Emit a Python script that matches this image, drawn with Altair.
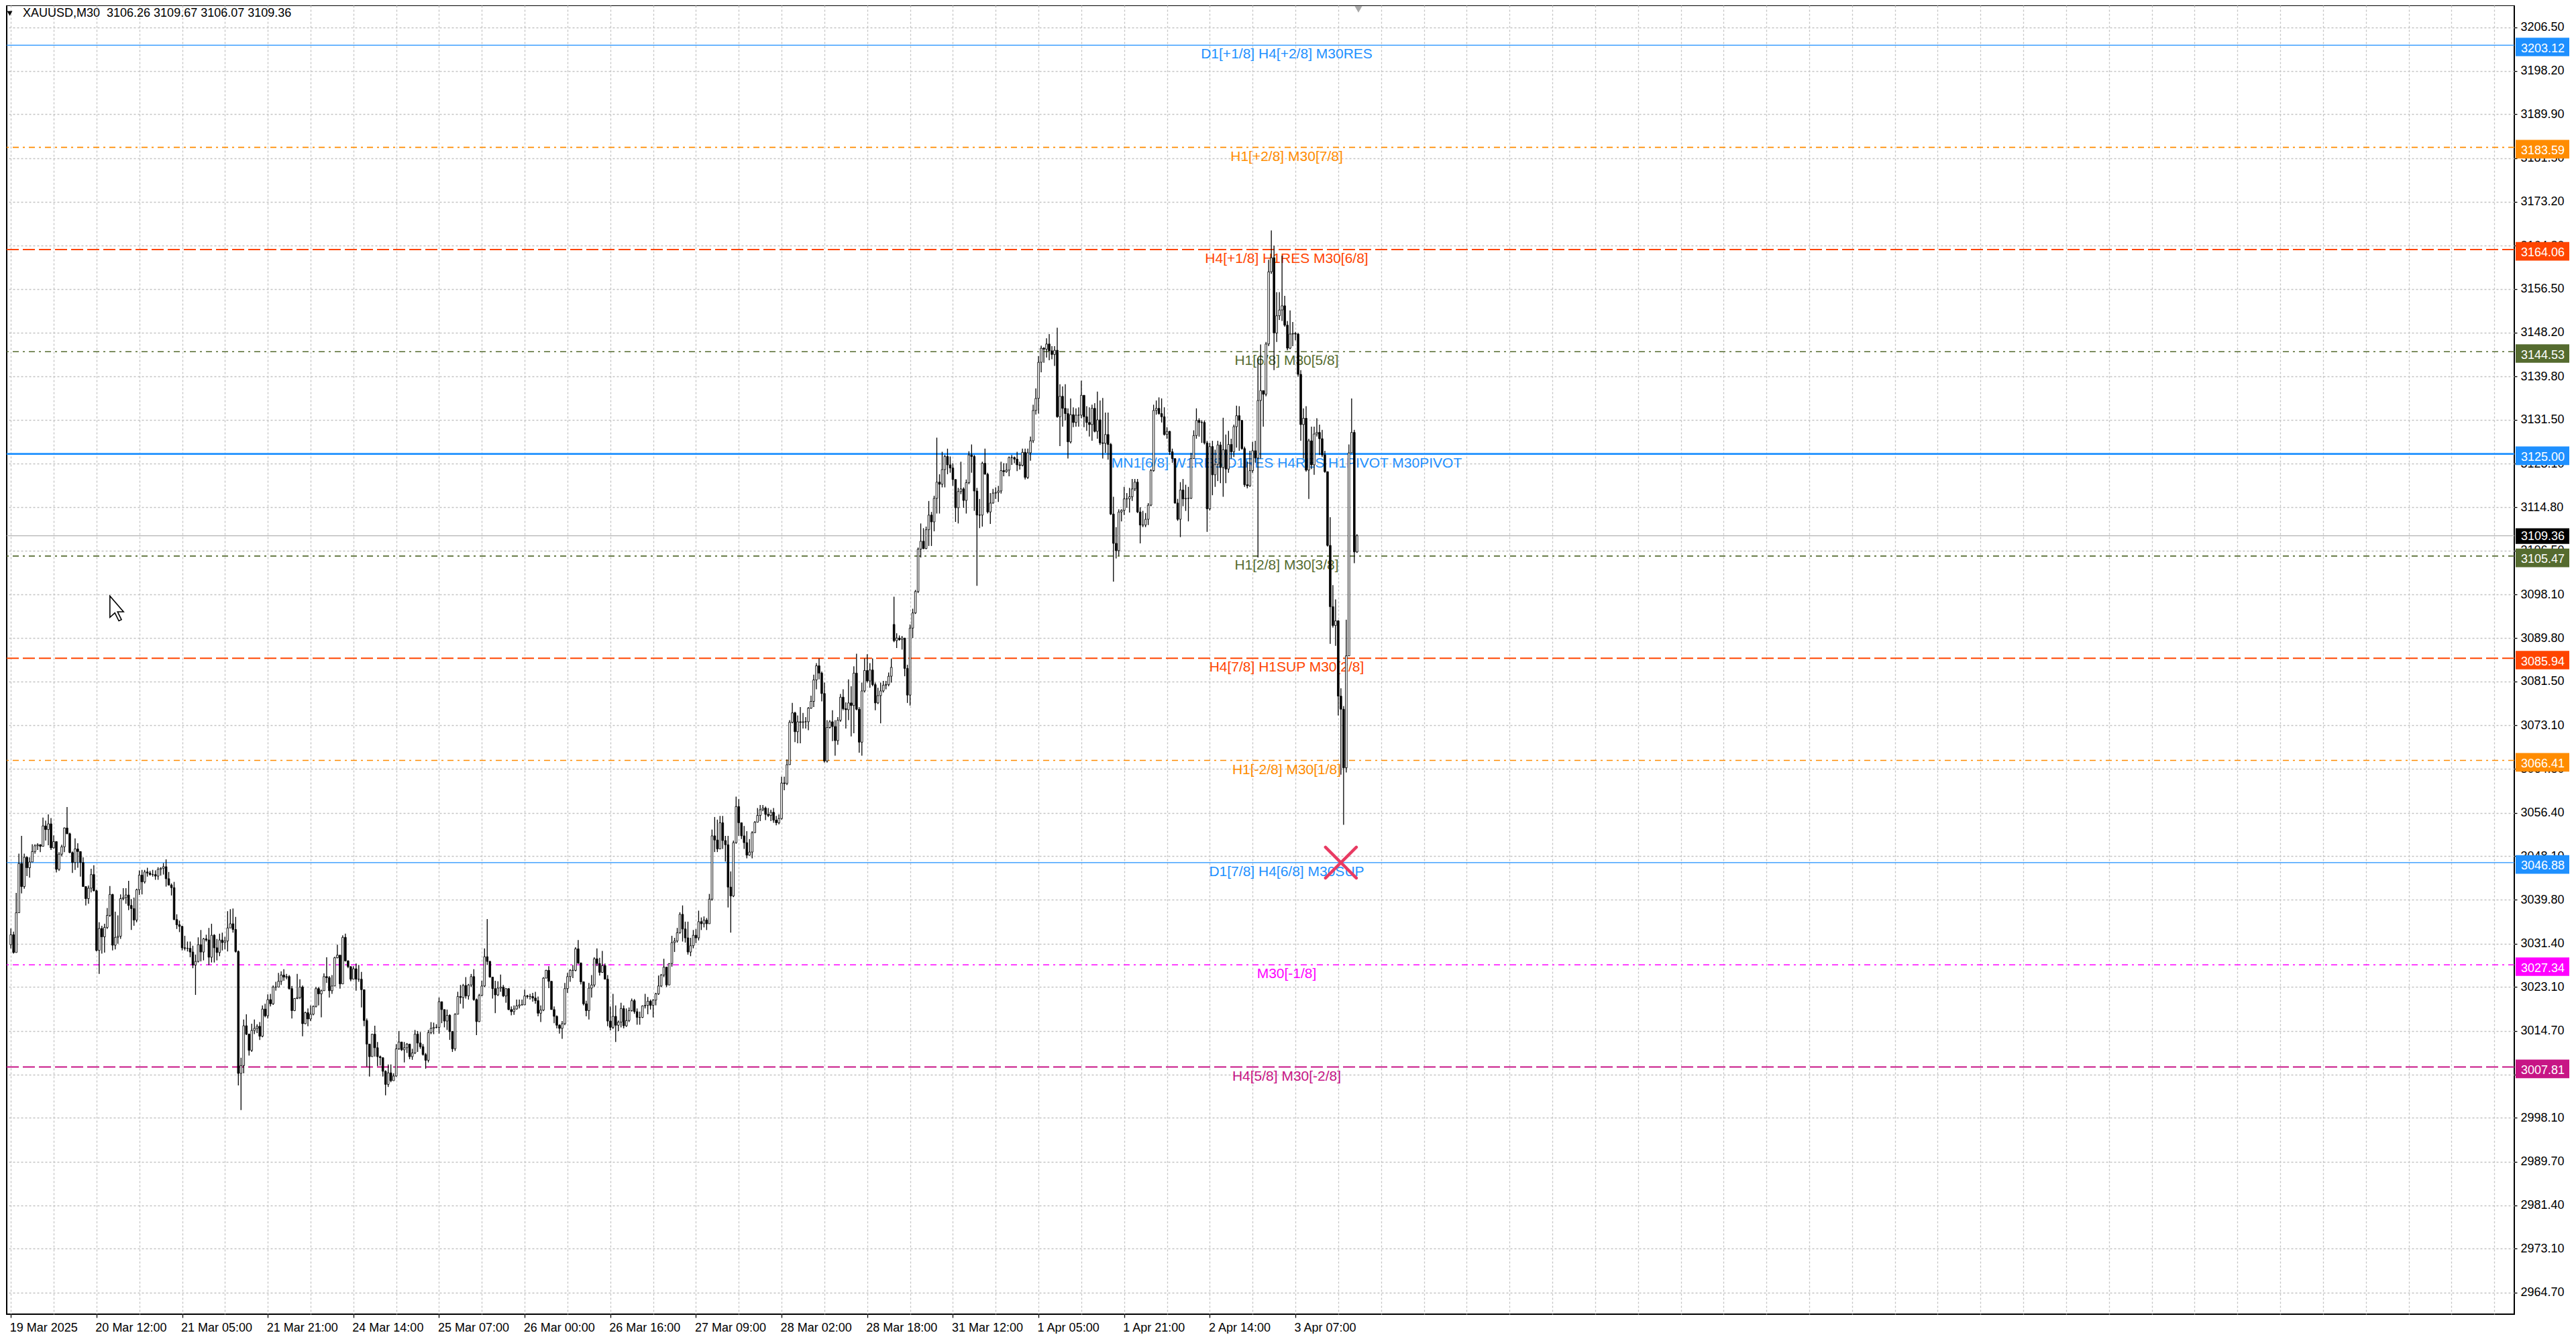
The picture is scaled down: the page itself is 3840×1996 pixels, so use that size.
import json
import altair as alt
import pandas as pd

# ---------------- candle data (M30 bars) ----------------
first_open = 3031.2
gap_bars = [330]
gap_opens = [3092.4]

closes = [
3033.1, 3029.7, 3037.3, 3046.7, 3042.3, 3047.9, 3045.9, 3047.0, 3049.0, 3050.1,
3050.3, 3050.0, 3053.9, 3053.2, 3054.3, 3049.7, 3050.9, 3045.6, 3048.5, 3049.9,
3053.5, 3052.4, 3048.8, 3046.9, 3049.5, 3049.0, 3046.9, 3042.3, 3040.0, 3042.0,
3044.6, 3041.5, 3030.1, 3034.3, 3032.7, 3034.5, 3036.8, 3040.8, 3031.1, 3032.6,
3032.8, 3040.0, 3040.2, 3040.7, 3038.7, 3038.1, 3035.9, 3041.7, 3044.5, 3043.2,
3045.1, 3044.9, 3044.6, 3044.6, 3044.3, 3045.6, 3045.8, 3046.1, 3043.8, 3042.6,
3042.1, 3036.0, 3035.0, 3034.7, 3030.6, 3030.5, 3030.5, 3029.8, 3027.3, 3028.0,
3031.2, 3029.8, 3032.3, 3032.1, 3028.8, 3033.0, 3030.6, 3029.7, 3032.1, 3031.6,
3031.9, 3034.4, 3035.2, 3034.1, 3029.9, 3006.6, 3008.1, 3015.7, 3014.1, 3011.0,
3014.8, 3015.2, 3015.6, 3013.7, 3018.9, 3017.6, 3020.7, 3019.9, 3023.1, 3023.1,
3024.2, 3025.4, 3025.0, 3025.1, 3022.8, 3018.6, 3020.9, 3021.1, 3023.1, 3016.1,
3018.2, 3017.0, 3017.9, 3019.4, 3022.8, 3021.8, 3022.4, 3025.1, 3024.9, 3022.4,
3023.3, 3028.7, 3029.2, 3023.7, 3032.6, 3028.1, 3027.0, 3024.6, 3026.6, 3024.6,
3024.6, 3022.6, 3016.7, 3012.2, 3009.8, 3014.1, 3011.5, 3009.8, 3009.6, 3007.0,
3004.5, 3006.7, 3005.2, 3006.1, 3011.3, 3012.6, 3011.1, 3011.5, 3012.2, 3009.8,
3010.5, 3014.1, 3012.4, 3011.7, 3010.2, 3009.1, 3014.4, 3015.2, 3015.4, 3015.4,
3020.3, 3018.8, 3016.6, 3017.7, 3014.6, 3011.3, 3017.9, 3021.3, 3021.1, 3023.4,
3021.4, 3023.5, 3025.1, 3020.7, 3016.5, 3021.5, 3023.3, 3028.9, 3028.0, 3025.0,
3022.8, 3021.6, 3022.9, 3023.1, 3021.4, 3022.8, 3018.8, 3018.4, 3018.9, 3019.5,
3019.7, 3019.7, 3021.4, 3021.3, 3021.3, 3021.0, 3020.5, 3018.1, 3018.7, 3024.8,
3026.3, 3024.2, 3018.8, 3017.5, 3015.8, 3015.2, 3016.1, 3022.8, 3025.1, 3026.3,
3026.3, 3030.4, 3027.7, 3024.1, 3019.9, 3018.6, 3022.9, 3023.5, 3028.5, 3027.6,
3025.9, 3027.2, 3024.6, 3016.6, 3015.4, 3017.5, 3015.8, 3016.4, 3019.0, 3015.7,
3016.7, 3018.6, 3020.5, 3018.4, 3017.3, 3017.3, 3019.5, 3019.6, 3020.4, 3019.6,
3020.6, 3021.8, 3023.3, 3025.4, 3026.9, 3023.5, 3027.6, 3031.6, 3031.9, 3033.5,
3037.0, 3034.2, 3032.5, 3029.8, 3031.0, 3033.0, 3032.5, 3035.6, 3035.2, 3035.9,
3035.2, 3039.9, 3052.0, 3051.2, 3049.5, 3054.5, 3051.1, 3050.3, 3042.2, 3040.5,
3050.7, 3057.6, 3054.5, 3052.0, 3050.7, 3048.3, 3048.9, 3052.6, 3054.6, 3055.9,
3057.0, 3057.3, 3056.1, 3055.9, 3056.5, 3055.0, 3054.5, 3055.3, 3062.1, 3062.0,
3065.6, 3073.7, 3075.5, 3071.9, 3073.8, 3073.7, 3073.8, 3073.8, 3076.4, 3077.7,
3081.8, 3084.5, 3083.1, 3079.2, 3066.3, 3072.7, 3073.8, 3072.9, 3070.2, 3074.1,
3078.5, 3076.3, 3076.1, 3077.4, 3076.9, 3083.1, 3076.2, 3069.9, 3079.7, 3083.6,
3081.6, 3083.7, 3080.9, 3077.4, 3078.8, 3079.7, 3080.8, 3080.9, 3082.5, 3084.2,
3089.3, 3089.8, 3089.5, 3089.8, 3084.0, 3078.9, 3091.7, 3094.6, 3098.7, 3106.8,
3108.3, 3106.9, 3110.5, 3113.3, 3112.0, 3116.5, 3119.6, 3119.2, 3122.0, 3124.5,
3122.9, 3122.3, 3120.1, 3114.7, 3117.8, 3118.3, 3116.1, 3119.5, 3124.8, 3124.5,
3117.9, 3113.3, 3113.3, 3123.2, 3121.1, 3113.9, 3115.6, 3117.5, 3117.6, 3117.9,
3121.8, 3121.6, 3121.9, 3124.3, 3124.3, 3124.0, 3122.9, 3122.8, 3125.3, 3120.5,
3125.2, 3127.5, 3133.3, 3135.6, 3142.5, 3145.2, 3145.0, 3146.0, 3144.7, 3144.0,
3144.8, 3132.1, 3136.0, 3133.7, 3132.7, 3127.3, 3132.5, 3131.0, 3132.4, 3132.4,
3136.2, 3132.1, 3131.0, 3130.6, 3133.7, 3129.3, 3131.5, 3127.1, 3127.0, 3128.7,
3126.8, 3113.5, 3107.9, 3106.5, 3113.9, 3114.2, 3116.4, 3116.4, 3116.8, 3118.3,
3119.6, 3113.9, 3111.4, 3111.4, 3112.5, 3115.2, 3121.8, 3133.3, 3133.7, 3132.7,
3132.1, 3128.7, 3129.3, 3125.4, 3124.1, 3115.6, 3112.5, 3118.1, 3116.4, 3116.5,
3116.5, 3124.1, 3128.5, 3131.4, 3131.0, 3131.0, 3127.1, 3114.5, 3126.4, 3121.0,
3123.0, 3126.7, 3122.4, 3125.8, 3122.1, 3126.8, 3125.4, 3130.2, 3132.3, 3131.4,
3126.0, 3119.1, 3118.9, 3121.8, 3125.6, 3124.2, 3135.2, 3137.1, 3136.4, 3146.0,
3159.8, 3162.5, 3148.1, 3151.4, 3152.5, 3153.3, 3149.6, 3145.2, 3147.9, 3148.0,
3147.9, 3140.2, 3130.6, 3131.8, 3121.9, 3127.5, 3122.9, 3128.8, 3129.1, 3127.9,
3124.8, 3121.6, 3107.5, 3095.8, 3092.2, 3093.1, 3078.7, 3076.2, 3065.0, 3086.4,
3125.2, 3129.1, 3106.26, 3109.36,
]

highs = [
3034.3, 3033.7, 3041.1, 3048.6, 3052.0, 3048.6, 3048.1, 3047.9, 3050.4, 3050.4,
3050.6, 3050.4, 3055.5, 3054.9, 3056.1, 3055.4, 3052.1, 3050.9, 3048.9, 3050.3,
3053.6, 3057.5, 3052.6, 3049.0, 3051.5, 3050.6, 3049.0, 3047.9, 3042.3, 3042.5,
3045.7, 3046.4, 3041.7, 3035.5, 3034.8, 3035.2, 3038.2, 3042.4, 3040.9, 3037.5,
3036.8, 3040.8, 3042.0, 3042.0, 3043.4, 3039.9, 3040.2, 3041.9, 3045.4, 3045.5,
3045.5, 3045.9, 3045.3, 3045.5, 3045.4, 3046.0, 3046.0, 3046.8, 3047.5, 3045.1,
3042.9, 3043.2, 3037.0, 3035.8, 3034.8, 3032.9, 3031.8, 3031.8, 3031.0, 3029.3,
3032.6, 3034.0, 3032.5, 3033.1, 3034.4, 3035.2, 3033.2, 3032.3, 3033.3, 3033.5,
3032.7, 3037.6, 3038.0, 3038.1, 3036.5, 3030.1, 3009.6, 3016.9, 3017.9, 3014.2,
3016.1, 3016.9, 3016.0, 3016.4, 3019.6, 3019.9, 3021.7, 3021.8, 3023.4, 3024.1,
3025.8, 3026.1, 3026.5, 3025.6, 3025.4, 3023.3, 3021.0, 3025.6, 3024.6, 3023.4,
3018.4, 3019.0, 3019.6, 3019.6, 3023.1, 3023.1, 3022.6, 3025.7, 3028.8, 3025.2,
3025.4, 3028.9, 3031.2, 3029.2, 3033.0, 3033.3, 3028.2, 3027.1, 3027.1, 3027.6,
3027.3, 3026.0, 3022.4, 3017.1, 3012.2, 3014.1, 3015.7, 3012.6, 3010.0, 3009.6,
3007.2, 3008.3, 3008.3, 3006.6, 3012.2, 3014.7, 3012.2, 3012.6, 3012.4, 3012.2,
3011.3, 3014.9, 3014.7, 3014.5, 3012.2, 3010.5, 3014.9, 3016.4, 3016.3, 3016.0,
3021.1, 3020.3, 3018.6, 3018.8, 3017.9, 3014.7, 3018.1, 3022.2, 3023.5, 3023.7,
3025.0, 3023.7, 3025.6, 3026.5, 3020.9, 3021.8, 3024.3, 3030.5, 3036.1, 3028.1,
3025.0, 3024.3, 3024.2, 3025.5, 3023.5, 3022.9, 3022.9, 3019.4, 3019.6, 3020.7,
3020.7, 3020.7, 3022.6, 3021.6, 3021.8, 3022.0, 3022.2, 3021.3, 3019.6, 3025.0,
3026.4, 3027.1, 3024.2, 3019.4, 3017.7, 3016.0, 3016.6, 3023.9, 3025.8, 3026.5,
3027.3, 3030.7, 3032.1, 3027.8, 3024.1, 3020.5, 3023.9, 3025.4, 3028.8, 3030.5,
3028.7, 3030.0, 3027.6, 3025.4, 3019.4, 3021.8, 3019.6, 3016.7, 3020.1, 3019.6,
3019.0, 3019.2, 3020.9, 3020.8, 3019.0, 3018.4, 3019.6, 3021.8, 3021.2, 3020.7,
3020.8, 3022.0, 3025.3, 3025.6, 3028.5, 3026.9, 3027.6, 3032.9, 3032.5, 3034.4,
3037.4, 3038.7, 3035.6, 3035.6, 3032.5, 3034.0, 3034.2, 3037.7, 3036.4, 3036.6,
3036.3, 3040.9, 3053.2, 3055.6, 3055.1, 3055.8, 3055.8, 3052.0, 3052.0, 3045.2,
3051.1, 3059.5, 3059.0, 3054.5, 3053.9, 3052.9, 3051.4, 3052.9, 3054.8, 3057.3,
3057.9, 3057.9, 3057.6, 3057.3, 3057.0, 3057.3, 3055.8, 3056.1, 3063.3, 3063.3,
3066.6, 3074.1, 3077.4, 3075.7, 3075.0, 3076.6, 3075.5, 3074.7, 3076.6, 3078.8,
3082.8, 3085.0, 3085.9, 3083.4, 3081.3, 3074.1, 3074.1, 3076.0, 3074.1, 3074.7,
3079.1, 3080.0, 3077.5, 3081.9, 3080.6, 3084.4, 3086.8, 3076.6, 3081.3, 3085.9,
3086.7, 3085.0, 3085.9, 3081.3, 3080.3, 3081.3, 3081.6, 3081.6, 3083.2, 3085.9,
3097.7, 3090.7, 3090.3, 3090.2, 3089.3, 3084.7, 3092.4, 3095.4, 3099.0, 3107.1,
3111.7, 3110.8, 3111.1, 3116.0, 3113.9, 3117.0, 3128.1, 3121.1, 3125.4, 3124.8,
3126.0, 3124.5, 3123.2, 3120.1, 3118.5, 3123.5, 3118.6, 3120.1, 3125.5, 3126.8,
3124.8, 3118.5, 3116.4, 3123.5, 3126.0, 3121.4, 3117.5, 3118.3, 3118.6, 3118.9,
3123.5, 3123.2, 3123.2, 3124.5, 3124.8, 3124.5, 3125.4, 3123.5, 3126.0, 3126.0,
3126.0, 3128.3, 3134.4, 3137.5, 3143.7, 3145.7, 3145.4, 3147.1, 3147.9, 3145.6,
3145.6, 3149.1, 3138.3, 3137.9, 3138.3, 3133.7, 3135.6, 3133.9, 3133.7, 3133.9,
3139.0, 3136.2, 3134.1, 3133.9, 3134.4, 3134.7, 3136.9, 3135.2, 3135.7, 3132.9,
3132.9, 3127.1, 3116.8, 3111.0, 3114.4, 3114.4, 3118.7, 3117.5, 3118.5, 3120.2,
3120.2, 3120.2, 3114.8, 3114.1, 3113.7, 3115.6, 3122.1, 3134.4, 3135.2, 3135.8,
3135.6, 3133.9, 3130.1, 3129.4, 3126.0, 3124.1, 3116.4, 3119.6, 3120.2, 3119.1,
3118.7, 3125.2, 3129.5, 3133.7, 3131.8, 3131.4, 3131.4, 3127.5, 3127.1, 3127.5,
3125.8, 3127.5, 3127.3, 3131.9, 3128.7, 3129.4, 3127.9, 3130.6, 3134.2, 3134.1,
3131.4, 3126.4, 3123.5, 3125.6, 3127.3, 3127.5, 3143.3, 3145.9, 3136.8, 3146.4,
3162.1, 3167.7, 3164.8, 3155.9, 3155.9, 3162.9, 3155.2, 3150.4, 3152.4, 3150.2,
3148.3, 3148.1, 3141.0, 3133.7, 3134.1, 3127.9, 3130.2, 3130.2, 3131.8, 3130.6,
3129.6, 3125.6, 3121.6, 3112.9, 3099.9, 3097.2, 3093.2, 3080.2, 3076.8, 3093.3,
3126.8, 3135.6, 3129.6, 3109.67,
]

lows = [
3030.5, 3029.5, 3029.8, 3037.3, 3041.0, 3041.9, 3044.3, 3044.0, 3047.2, 3048.6,
3049.3, 3048.9, 3050.0, 3051.1, 3050.2, 3049.3, 3049.6, 3045.0, 3045.3, 3048.1,
3048.9, 3052.3, 3048.7, 3044.9, 3045.5, 3045.9, 3044.2, 3042.3, 3038.7, 3039.0,
3041.2, 3041.4, 3029.9, 3025.6, 3029.5, 3029.7, 3034.2, 3036.5, 3030.1, 3030.3,
3031.4, 3032.3, 3039.7, 3039.0, 3037.8, 3034.0, 3034.8, 3035.5, 3040.7, 3040.8,
3042.9, 3044.2, 3044.4, 3044.2, 3043.6, 3043.6, 3044.4, 3044.6, 3042.3, 3042.5,
3040.6, 3035.9, 3034.2, 3033.6, 3030.1, 3030.1, 3029.9, 3028.8, 3026.7, 3021.6,
3027.8, 3028.0, 3028.2, 3031.8, 3027.3, 3027.8, 3027.8, 3028.2, 3029.0, 3030.1,
3030.3, 3029.9, 3034.4, 3033.5, 3029.7, 3004.3, 2999.6, 3006.6, 3013.9, 3010.0,
3010.7, 3014.1, 3014.3, 3013.0, 3013.5, 3017.3, 3017.1, 3019.4, 3019.7, 3022.4,
3023.3, 3023.5, 3024.3, 3024.6, 3022.6, 3017.1, 3018.5, 3020.8, 3020.8, 3013.7,
3016.0, 3015.6, 3016.6, 3017.7, 3019.2, 3019.6, 3017.3, 3022.4, 3023.9, 3021.1,
3021.8, 3023.3, 3028.6, 3022.8, 3023.7, 3028.0, 3026.7, 3024.2, 3024.6, 3022.4,
3024.1, 3019.2, 3015.6, 3007.9, 3006.0, 3009.8, 3009.8, 3008.0, 3008.1, 3006.0,
3002.4, 3004.0, 3004.9, 3005.2, 3006.0, 3011.1, 3010.9, 3008.7, 3010.5, 3009.3,
3009.2, 3010.3, 3010.7, 3011.3, 3010.0, 3007.5, 3008.7, 3014.1, 3014.1, 3015.2,
3014.2, 3016.2, 3015.4, 3014.9, 3013.0, 3010.7, 3010.9, 3017.9, 3019.9, 3019.0,
3020.9, 3020.7, 3023.1, 3020.5, 3013.9, 3016.4, 3021.4, 3023.1, 3027.3, 3024.9,
3020.9, 3018.1, 3021.4, 3022.2, 3021.2, 3020.1, 3018.7, 3017.7, 3017.8, 3018.8,
3019.0, 3019.6, 3020.3, 3020.9, 3020.7, 3020.3, 3019.9, 3017.5, 3016.4, 3018.5,
3024.8, 3022.9, 3018.8, 3016.2, 3015.2, 3014.2, 3013.2, 3015.8, 3022.0, 3024.1,
3024.8, 3026.1, 3027.5, 3023.6, 3019.6, 3017.5, 3016.9, 3021.1, 3023.1, 3027.1,
3025.3, 3025.8, 3024.6, 3015.6, 3014.8, 3015.1, 3012.6, 3014.7, 3015.4, 3015.2,
3015.5, 3016.4, 3018.4, 3018.0, 3015.9, 3015.9, 3017.2, 3019.0, 3017.9, 3018.8,
3017.3, 3019.6, 3021.6, 3023.1, 3025.0, 3023.1, 3023.5, 3027.0, 3029.8, 3031.6,
3033.3, 3031.8, 3031.6, 3029.3, 3029.0, 3030.5, 3031.5, 3032.0, 3034.0, 3034.5,
3034.0, 3035.7, 3039.6, 3048.9, 3048.9, 3049.5, 3049.5, 3047.1, 3038.3, 3033.5,
3040.3, 3050.5, 3052.0, 3051.4, 3049.5, 3047.7, 3048.2, 3047.7, 3052.6, 3054.6,
3054.8, 3056.7, 3055.0, 3055.6, 3054.8, 3054.5, 3054.0, 3054.2, 3055.1, 3060.7,
3061.7, 3065.6, 3073.5, 3069.9, 3069.7, 3069.7, 3072.5, 3072.5, 3072.2, 3076.3,
3076.6, 3080.0, 3081.9, 3077.7, 3066.0, 3066.0, 3072.5, 3070.1, 3067.3, 3069.4,
3073.8, 3076.0, 3072.5, 3074.1, 3071.0, 3071.6, 3076.0, 3067.9, 3067.3, 3079.4,
3081.3, 3080.3, 3080.6, 3076.0, 3077.2, 3073.5, 3079.4, 3080.0, 3080.6, 3081.3,
3089.0, 3087.9, 3089.3, 3087.6, 3082.5, 3077.4, 3076.9, 3089.8, 3094.4, 3098.4,
3105.2, 3106.8, 3106.8, 3107.4, 3107.4, 3110.2, 3113.6, 3113.6, 3118.6, 3118.6,
3121.1, 3121.4, 3118.9, 3112.0, 3111.7, 3117.3, 3114.7, 3113.6, 3119.2, 3121.4,
3114.1, 3099.8, 3110.8, 3111.1, 3121.1, 3113.6, 3111.6, 3115.5, 3116.4, 3115.8,
3117.4, 3120.7, 3121.4, 3120.7, 3122.9, 3123.2, 3121.7, 3122.0, 3122.6, 3120.1,
3120.2, 3123.7, 3127.1, 3132.5, 3132.7, 3140.6, 3142.4, 3143.4, 3142.9, 3143.1,
3141.8, 3131.9, 3126.5, 3130.2, 3131.4, 3124.1, 3127.0, 3130.1, 3130.2, 3130.2,
3131.8, 3130.1, 3129.4, 3128.3, 3127.5, 3129.1, 3127.9, 3126.7, 3124.1, 3125.2,
3123.9, 3113.3, 3100.6, 3105.0, 3105.6, 3112.1, 3113.3, 3114.7, 3113.8, 3116.0,
3117.9, 3113.7, 3107.9, 3111.0, 3111.0, 3111.4, 3115.0, 3121.6, 3132.5, 3132.5,
3131.0, 3128.5, 3127.9, 3124.8, 3123.3, 3115.5, 3112.2, 3109.1, 3115.0, 3114.1,
3112.1, 3116.4, 3124.8, 3127.9, 3128.3, 3127.1, 3126.8, 3110.1, 3114.2, 3117.1,
3118.7, 3119.8, 3119.4, 3116.8, 3119.4, 3121.4, 3124.1, 3124.4, 3126.2, 3125.6,
3125.8, 3118.7, 3118.4, 3118.7, 3121.4, 3123.3, 3105.2, 3124.1, 3130.2, 3136.0,
3145.6, 3159.4, 3141.0, 3146.4, 3150.6, 3150.4, 3149.3, 3144.8, 3145.0, 3145.6,
3146.7, 3139.8, 3127.5, 3124.1, 3121.6, 3116.4, 3122.1, 3121.0, 3128.3, 3124.8,
3124.4, 3121.4, 3107.3, 3088.7, 3091.8, 3088.3, 3075.0, 3063.7, 3054.1, 3064.1,
3086.4, 3125.2, 3104.1, 3106.07,
]

# ---------------- Murrey-math style levels ----------------
level_prices = [3203.12, 3183.59, 3164.06, 3144.53, 3125.00, 3105.47,
                3085.94, 3066.41, 3046.88, 3027.34, 3007.81]
level_names = ["D1[+1/8] H4[+2/8] M30RES", "H1[+2/8] M30[7/8]",
               "H4[+1/8] H1RES M30[6/8]", "H1[6/8] M30[5/8]",
               "MN1[6/8] W1RES D1RES H4RES H1PIVOT M30PIVOT",
               "H1[2/8] M30[3/8]", "H4[7/8] H1SUP M30[2/8]",
               "H1[-2/8] M30[1/8]", "D1[7/8] H4[6/8] M30SUP",
               "M30[-1/8]", "H4[5/8] M30[-2/8]"]
level_colors = ["#1E90FF", "#FF8C00", "#FF4500", "#556B2F", "#1E90FF", "#556B2F",
                "#FF4500", "#FF8C00", "#1E90FF", "#FF00FF", "#C71585"]
level_styles = ["solid", "dashdot", "dash", "dashdot", "solid", "dashdot",
                "dash", "dashdot", "solid", "dashdot", "dash"]
level_widths = [1.3, 1.6, 2.0, 1.6, 2.6, 1.6, 2.0, 1.6, 1.3, 1.6, 2.0]

current_price = 3109.36
header_text = "XAUUSD,M30\u00a0\u00a03106.26 3109.67 3106.07 3109.36"

marker_bar = 497
marker_price = 3046.88

y_ticks = [3206.50, 3198.20, 3189.90, 3181.50, 3173.20, 3164.80, 3156.50, 3148.20,
           3139.80, 3131.50, 3123.10, 3114.80, 3106.50, 3098.10, 3089.80, 3081.50,
           3073.10, 3064.80, 3056.40, 3048.10, 3039.80, 3031.40, 3023.10, 3014.70,
           3006.40, 2998.10, 2989.70, 2981.40, 2973.10, 2964.70]

date_labels = ["19 Mar 2025", "20 Mar 12:00", "21 Mar 05:00", "21 Mar 21:00",
               "24 Mar 14:00", "25 Mar 07:00", "26 Mar 00:00", "26 Mar 16:00",
               "27 Mar 09:00", "28 Mar 02:00", "28 Mar 18:00", "31 Mar 12:00",
               "1 Apr 05:00", "1 Apr 21:00", "2 Apr 14:00", "3 Apr 07:00"]
bars_per_label = 32
bars_per_grid = 16

# ---------------- build table ----------------
n = len(closes)
assert len(highs) == n and len(lows) == n, (len(closes), len(highs), len(lows))
opens = [first_open] + closes[:-1]
for b, o in zip(gap_bars, gap_opens):
    opens[b] = o
df = pd.DataFrame({"i": list(range(n)), "open": opens, "high": highs,
                   "low": lows, "close": closes})

W, H = 3738, 1951
FONT = "Liberation Sans"
xs = alt.Scale(domain=[-0.3, 934.2], nice=False, zero=False)
ys = alt.Scale(domain=[2960.58, 3210.72], nice=False, zero=False)

last_label_bar = bars_per_label * (len(date_labels) - 1)
label_test = "datum.value % {k} === 0 && datum.value <= {m}".format(
    k=bars_per_label, m=last_label_bar)
label_expr = "{t} ? {arr}[datum.value / {k}] : ''".format(
    t=label_test, arr=json.dumps(date_labels), k=bars_per_label)

x_axis = alt.Axis(
    values=list(range(0, 935, bars_per_grid)), grid=True, gridDash=[3, 3],
    gridColor="#C4C4C4", gridWidth=1.3, domain=False, labelExpr=label_expr,
    labelAlign="left", labelBaseline="top", labelFlush=False, labelOverlap=False,
    labelFont=FONT, labelFontSize=18, labelColor="black", labelPadding=6,
    labelOffset=-2,
    tickSize=5, tickColor="black", tickWidth=1.3,
    tickOpacity={"condition": {"test": label_test, "value": 1}, "value": 0},
    title=None, zindex=0)

y_axis = alt.Axis(
    orient="right", values=y_ticks, format=".2f", grid=True, gridDash=[3, 3],
    gridColor="#C4C4C4", gridWidth=1.3, domain=False, labelOverlap=False,
    labelFont=FONT, labelFontSize=18, labelColor="black", labelPadding=5,
    labelBaseline="middle", tickSize=4, tickColor="black", tickWidth=1.3,
    title=None, zindex=0)


def X(field):
    return alt.X(field, scale=xs, axis=x_axis)


def Y(field):
    return alt.Y(field, scale=ys, axis=y_axis)


dash_map = {"solid": [1, 0], "dash": [18, 6], "dashdot": [9, 6, 3, 6]}

layers = []
# candles
base = alt.Chart(df).transform_calculate(
    hi="max(datum.high, datum.open, datum.close)",
    lo="min(datum.low, datum.open, datum.close)")
wick = base.mark_rule(color="black", strokeWidth=1.3).encode(
    x=X("i:Q"), y=Y("lo:Q"), y2="hi:Q")
body = base.mark_bar(size=2.6, stroke="black", strokeWidth=0.9).encode(
    x=X("i:Q"), y=Y("open:Q"), y2="close:Q",
    fill=alt.when(alt.datum.close >= alt.datum.open)
           .then(alt.value("white")).otherwise(alt.value("black")))

# level lines
for p, c, s, w in zip(level_prices, level_colors, level_styles, level_widths):
    layers.append(alt.Chart(pd.DataFrame({"p": [p]})).mark_rule(
        color=c, strokeWidth=w, strokeDash=dash_map[s]).encode(y=Y("p:Q")))

# current price line
layers.append(alt.Chart(pd.DataFrame({"p": [current_price]})).mark_rule(
    color="#B4B4B4", strokeWidth=1.3).encode(y=Y("p:Q")))

# level labels
for p, t, c in zip(level_prices, level_names, level_colors):
    layers.append(alt.Chart(pd.DataFrame({"p": [p], "t": [t]})).mark_text(
        font=FONT, fontSize=21, align="center", baseline="top", dy=3, color=c).encode(
        x=alt.value(1908), y=Y("p:Q"), text="t:N"))

layers += [wick, body]

# price boxes on the right scale (level boxes sit a little below their line)
box_prices = level_prices + [current_price]
box_colors = level_colors + ["#000000"]
box_shifts = [5.5] * len(level_prices) + [1]
for p, c, sh in zip(box_prices, box_colors, box_shifts):
    bdf = pd.DataFrame({"p": [p]})
    layers.append(alt.Chart(bdf).transform_calculate(
        lo="datum.p - 1.42", hi="datum.p + 1.42").mark_rect(color=c, yOffset=sh).encode(
        x=alt.value(3740), x2=alt.value(3820), y=Y("lo:Q"), y2="hi:Q"))
    layers.append(alt.Chart(bdf).mark_text(
        font=FONT, fontSize=18, align="left", baseline="middle", color="white",
        dy=sh).encode(
        x=alt.value(3748), y=Y("p:Q"), text=alt.Text("p:Q", format=".2f")))

# header
hdr = pd.DataFrame({"t": [header_text]})
layers.append(alt.Chart(hdr).mark_text(
    font=FONT, fontSize=18, align="left", baseline="middle", color="black").encode(
    x=alt.value(24), y=alt.value(12), text="t:N"))
layers.append(alt.Chart(hdr).mark_point(
    shape="triangle-down", size=64, filled=True, color="black", opacity=1).encode(
    x=alt.value(4.5), y=alt.value(12)))

# chart-shift marker at the top
layers.append(alt.Chart(hdr).mark_point(
    shape="triangle-down", size=120, filled=True, color="#A8A8A8", opacity=1).encode(
    x=alt.value(2015), y=alt.value(6)))

# mouse cursor
cursor_path = "M-0.55,-1L-0.55,0.72L-0.15,0.36L0.17,1L0.38,0.9L0.07,0.27L0.55,0.27Z"
layers.append(alt.Chart(hdr).mark_point(
    shape=cursor_path, size=1369, filled=True, fill="white", stroke="black",
    strokeWidth=1.6, opacity=1).encode(x=alt.value(164), y=alt.value(899)))

# signal cross
layers.append(alt.Chart(pd.DataFrame({"i": [marker_bar], "p": [marker_price]})).mark_point(
    shape="M-1,-1L1,1M-1,1L1,-1", size=2116, filled=False, stroke="#E83A62",
    strokeWidth=4.5, strokeCap="round", opacity=1).encode(
    x=X("i:Q"), y=Y("p:Q")))

chart = alt.layer(*layers).properties(
    width=W, height=H, padding=0, background="white"
).configure_view(stroke="black", strokeWidth=2)

chart.save("out.html", embed_options={"renderer": "svg", "actions": False})
